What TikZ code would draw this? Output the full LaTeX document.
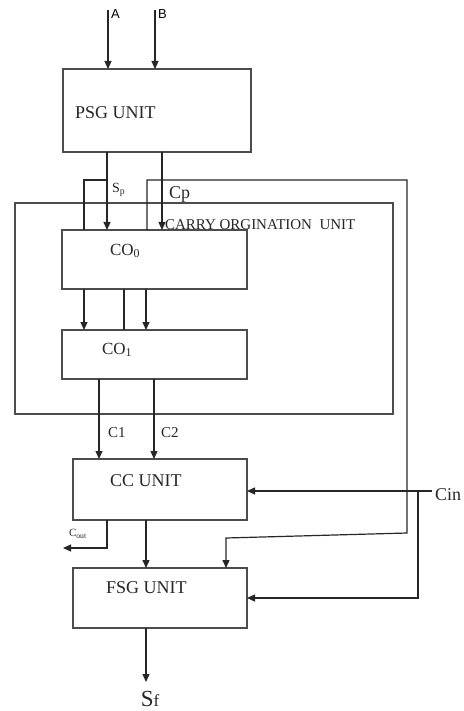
\documentclass[tikz,border=0pt]{standalone}
\usepackage{fontspec}
\setmainfont{Liberation Serif}
\newfontfamily\inputfont{Liberation Sans}
\usetikzlibrary{arrows.meta, positioning}

\begin{document}
\begin{tikzpicture}[
  x=1pt, y=-1pt,
  every node/.style={inner sep=0pt, outer sep=0pt},
  unit/.style={draw=black!70, line width=1.6pt},
  lbl/.style={font=\fontsize{18}{20}\selectfont, text=black!85},
  sig/.style={line width=1.2pt, draw=black!85},
  arrow/.style={sig, -{Triangle[width=7pt,length=8pt]}}
]
\useasboundingbox (0,0) rectangle (463,711);

% blocks
\node[unit, minimum width=188pt, minimum height=83pt] (psg) at (157,110.5) {};
\node[unit, minimum width=378pt, minimum height=211pt] (carry) at (204,308.5) {};
\node[unit, minimum width=185pt, minimum height=59pt] (co0) at (154.5,259.5) {};
\node[unit, minimum width=185pt, minimum height=49pt] (co1) at (154.5,354.5) {};
\node[unit, minimum width=174pt, minimum height=61pt] (cc) at (160,489.5) {};
\node[unit, minimum width=174pt, minimum height=60pt] (fsg) at (160,598) {};

\node[lbl, anchor=west] (psgtxt) at (75,113) {PSG UNIT};
\node[lbl, anchor=west, font=\fontsize{15}{17}\selectfont] (carrytxt) at (165,225) {CARRY ORGINATION\enspace UNIT};
\node[lbl, anchor=west, font=\fontsize{17}{19}\selectfont] (co0txt) at (110,251) {CO\textsubscript{0}};
\node[lbl, anchor=west, font=\fontsize{17}{19}\selectfont] (co1txt) at (102,350) {CO\textsubscript{1}};
\node[lbl, anchor=west] (cctxt) at (110,481) {CC UNIT};
\node[lbl, anchor=west] (fsgtxt) at (106,588) {FSG UNIT};

% inputs A, B
\coordinate (inA) at (108,10);
\coordinate (inB) at (155,10);
\draw[arrow] (inA) -- (inA |- psg.north);
\draw[arrow] (inB) -- (inB |- psg.north);
\node[anchor=north west, font=\inputfont\fontsize{13}{15}\selectfont] (atxt) at (111,10) {A};
\node[anchor=north west, font=\inputfont\fontsize{13}{15}\selectfont] (btxt) at (158,10) {B};

% Sp, Cp
\coordinate (sp) at (107,0);
\coordinate (cp) at (162,0);
\draw[arrow] (sp |- psg.south) -- (sp |- co0.north);
\draw[arrow] (cp |- psg.south) -- (cp |- co0.north);
\node[lbl, anchor=west, font=\fontsize{14}{16}\selectfont] (sptxt) at (112,190) {S\textsubscript{p}};
\node[lbl, anchor=west, font=\fontsize{18}{20}\selectfont] (cptxt) at (169,194) {Cp};

% feedback
\coordinate (fbl) at (84,180);
\coordinate (fbr) at (147,180);
\coordinate (fbe) at (407,180);
\draw[sig] (sp |- fbl) -- (fbl) -- (fbl |- co0.north);
\draw[arrow] (fbr |- co0.north) -- (fbr) -- (fbe) -- (407,533) -- (226,538) -- (226,0 |- fsg.north);

% CO0 to CO1
\draw[arrow] (84,0 |- co0.south) -- (84,0 |- co1.north);
\draw[sig] (124,0 |- co0.south) -- (124,0 |- co1.north);
\draw[arrow] (146,0 |- co0.south) -- (146,0 |- co1.north);

% C1, C2
\draw[arrow] (99,0 |- co1.south) -- (99,0 |- cc.north);
\draw[arrow] (154,0 |- co1.south) -- (154,0 |- cc.north);
\node[lbl, anchor=west, font=\fontsize{15}{17}\selectfont] (c1txt) at (108,433) {C1};
\node[lbl, anchor=west, font=\fontsize{15}{17}\selectfont] (c2txt) at (161,433) {C2};

% Cin
\coordinate (cin) at (432,491);
\draw[arrow] (cin) -- (cin -| cc.east);
\draw[arrow] (418,491) -- (418,598) -- (fsg.east);
\node[lbl, anchor=west] (cintxt) at (435,495) {Cin};

% Cout
\coordinate (cout) at (63,548);
\draw[arrow] (107,0 |- cc.south) -- (107,548) -- (cout);
\node[lbl, anchor=west, font=\fontsize{11}{13}\selectfont] (couttxt) at (69,534) {C\textsubscript{out}};

% CC to FSG, output
\draw[arrow] (146,0 |- cc.south) -- (146,0 |- fsg.north);
\coordinate (sf) at (146,682);
\draw[arrow] (sf |- fsg.south) -- (sf);
\node[lbl, anchor=base] (sftxt) at (150,706) {{\fontsize{23}{25}\selectfont S}{\fontsize{17}{19}\selectfont f}};
\end{tikzpicture}
\end{document}
